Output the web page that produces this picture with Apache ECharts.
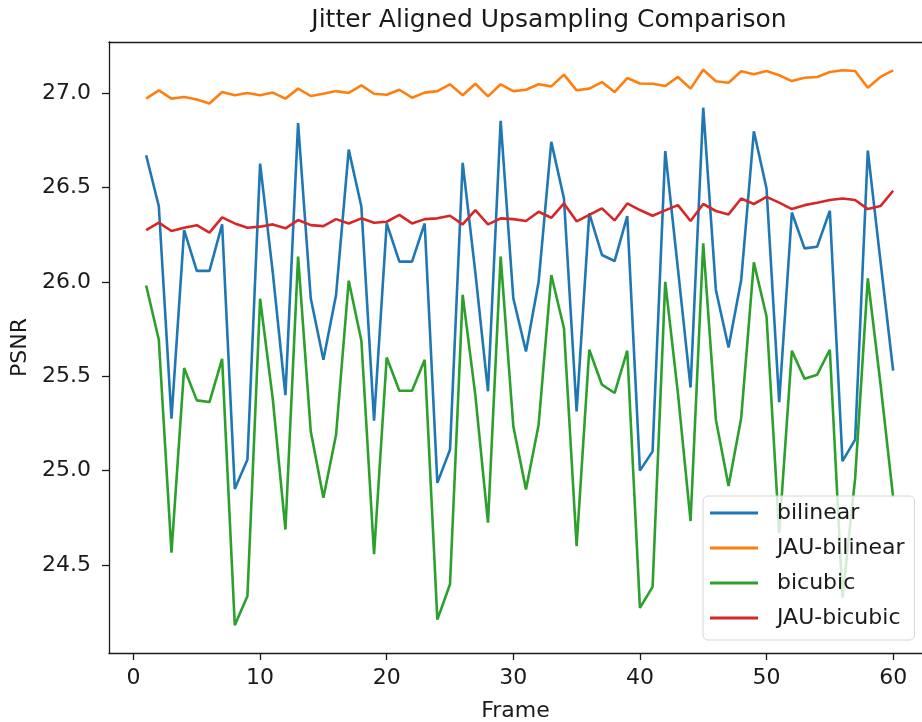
<!DOCTYPE html>
<html>
<head>
<meta charset="utf-8">
<script src="https://cdn.jsdelivr.net/npm/echarts@6/dist/echarts.min.js"></script>
<style>
  html, body { margin: 0; padding: 0; background: #fff; }
  #main { width: 922px; height: 722px; }
</style>
</head>
<body>
<div id="main"></div>
<script>
var myChart = echarts.init(document.getElementById('main'));

var seriesNames = ['bilinear', 'JAU-bilinear', 'bicubic', 'JAU-bicubic'];
var colors = ['#1f77b4', '#ff7f0e', '#2ca02c', '#d62728'];
var xTicks = [0, 10, 20, 30, 40, 50, 60];
var yTicks = [24.5, 25.0, 25.5, 26.0, 26.5, 27.0];

var frames = [];
for (var f = 1; f <= 60; f++) frames.push(f);

var bilinear = [
    26.67, 26.40, 25.275, 26.274, 26.058, 26.058, 26.304, 24.903, 25.059, 26.626,
    26.05, 25.40, 26.841, 25.913, 25.587, 25.93, 26.70, 26.397, 25.265, 26.309,
    26.107, 26.107, 26.309, 24.935, 25.11, 26.63, 26.05, 25.42, 26.852, 25.913,
    25.631, 26.0, 26.741, 26.441, 25.314, 26.362, 26.142, 26.11, 26.348, 25.0,
    25.102, 26.692, 26.07, 25.44, 26.922, 25.957, 25.652, 26.01, 26.797, 26.494,
    25.363, 26.367, 26.177, 26.186, 26.376, 25.05, 25.164, 26.695, 26.11, 25.529
];
var jauBilinear = [
    26.97, 27.014, 26.97, 26.979, 26.965, 26.944, 27.005, 26.988, 27.0, 26.988,
    27.002, 26.97, 27.023, 26.984, 26.996, 27.01, 27.0, 27.04, 26.996, 26.991,
    27.017, 26.975, 27.002, 27.01, 27.046, 26.988, 27.049, 26.982, 27.046, 27.01,
    27.017, 27.046, 27.035, 27.097, 27.014, 27.023, 27.058, 27.005, 27.079, 27.05,
    27.049, 27.037, 27.085, 27.023, 27.123, 27.062, 27.054, 27.115, 27.099, 27.116,
    27.094, 27.063, 27.081, 27.085, 27.111, 27.12, 27.116, 27.028, 27.085, 27.12
];
var bicubic = [
    25.98, 25.693, 24.565, 25.543, 25.372, 25.363, 25.592, 24.181, 24.336, 25.91,
    25.38, 24.688, 26.133, 25.208, 24.856, 25.19, 26.006, 25.688, 24.557, 25.599,
    25.423, 25.423, 25.587, 24.211, 24.398, 25.931, 25.40, 24.724, 26.133, 25.235,
    24.9, 25.243, 26.036, 25.754, 24.6, 25.64, 25.455, 25.411, 25.635, 24.273,
    24.384, 26.0, 25.41, 24.733, 26.204, 25.27, 24.918, 25.279, 26.103, 25.816,
    24.67, 25.635, 25.487, 25.508, 25.64, 24.327, 24.96, 26.018, 25.46, 24.86
];
var jauBicubic = [
    26.274, 26.313, 26.269, 26.286, 26.30, 26.26, 26.341, 26.309, 26.286, 26.292,
    26.304, 26.283, 26.327, 26.30, 26.295, 26.332, 26.309, 26.336, 26.313, 26.318,
    26.354, 26.309, 26.332, 26.336, 26.35, 26.304, 26.38, 26.304, 26.336, 26.332,
    26.322, 26.371, 26.339, 26.415, 26.32, 26.354, 26.389, 26.325, 26.415, 26.38,
    26.35, 26.378, 26.406, 26.322, 26.412, 26.375, 26.357, 26.441, 26.412, 26.45,
    26.419, 26.385, 26.406, 26.419, 26.433, 26.441, 26.433, 26.385, 26.401, 26.482
];

var allValues = [bilinear, jauBilinear, bicubic, jauBicubic];

function pairs(values) {
    var res = [];
    for (var i = 0; i < frames.length; i++) {
        res.push([frames[i], values[i]]);
    }
    return res;
}

var font = 'DejaVu Sans';
var ink = '#1a1a1a';

var series = [];
for (var s = 0; s < seriesNames.length; s++) {
    series.push({
        name: seriesNames[s],
        type: 'line',
        xAxisIndex: 0,
        data: pairs(allValues[s]),
        symbol: 'none',
        showSymbol: false,
        lineStyle: { width: 2.6, color: colors[s] },
        itemStyle: { color: colors[s] }
    });
}

// x range as matplotlib left it (plot runs past the right edge of the picture)
var xMin = -1.935, xMax = 62.28;

option = {
    animation: false,
    backgroundColor: '#fff',
    title: {
        text: 'Jitter Aligned Upsampling Comparison',
        left: 544,
        top: 3,
        textAlign: 'center',
        textStyle: { fontFamily: font, fontSize: 25, fontWeight: 'normal', color: ink }
    },
    grid: {
        left: 109,
        top: 42,
        width: 813,
        height: 611,
        show: false,
        outerBoundsMode: 'none'
    },
    legend: {
        data: seriesNames,
        orient: 'vertical',
        left: 703,
        top: 496,
        icon: 'rect',
        itemWidth: 48,
        itemHeight: 3,
        itemGap: 13,
        padding: [6, 10, 11, 7],
        backgroundColor: 'rgba(255,255,255,0.8)',
        borderColor: '#d6d6d6',
        borderWidth: 1,
        borderRadius: 5,
        textStyle: { fontFamily: font, fontSize: 22, color: ink, lineHeight: 22, padding: [0, 0, 0, 14] }
    },
    xAxis: [{
        type: 'value',
        position: 'bottom',
        min: xMin,
        max: xMax,
        name: 'Frame',
        nameLocation: 'middle',
        nameGap: 47,
        nameTextStyle: { fontFamily: font, fontSize: 22, color: ink },
        splitLine: { show: false },
        axisLine: { show: true, onZero: false, lineStyle: { color: ink, width: 1.3 } },
        axisTick: { show: true, length: 7, customValues: xTicks, lineStyle: { color: ink, width: 1.3 } },
        axisLabel: { customValues: xTicks, margin: 14, fontFamily: font, fontSize: 22, color: ink }
    }, {
        type: 'value',
        position: 'top',
        min: xMin,
        max: xMax,
        splitLine: { show: false },
        axisLine: { show: true, onZero: false, lineStyle: { color: ink, width: 1.3 } },
        axisTick: { show: false },
        axisLabel: { show: false }
    }],
    yAxis: {
        type: 'value',
        min: 24.034,
        max: 27.27,
        name: 'PSNR',
        nameLocation: 'middle',
        nameGap: 78,
        nameTextStyle: { fontFamily: font, fontSize: 22, color: ink },
        splitLine: { show: false },
        axisLine: { show: true, onZero: false, lineStyle: { color: ink, width: 1.3 } },
        axisTick: { show: true, length: 7, customValues: yTicks, lineStyle: { color: ink, width: 1.3 } },
        axisLabel: {
            customValues: yTicks,
            margin: 18,
            fontFamily: font,
            fontSize: 22,
            color: ink,
            formatter: function (v) { return v.toFixed(1); }
        }
    },
    series: series
};

myChart.setOption(option);
</script>
</body>
</html>
